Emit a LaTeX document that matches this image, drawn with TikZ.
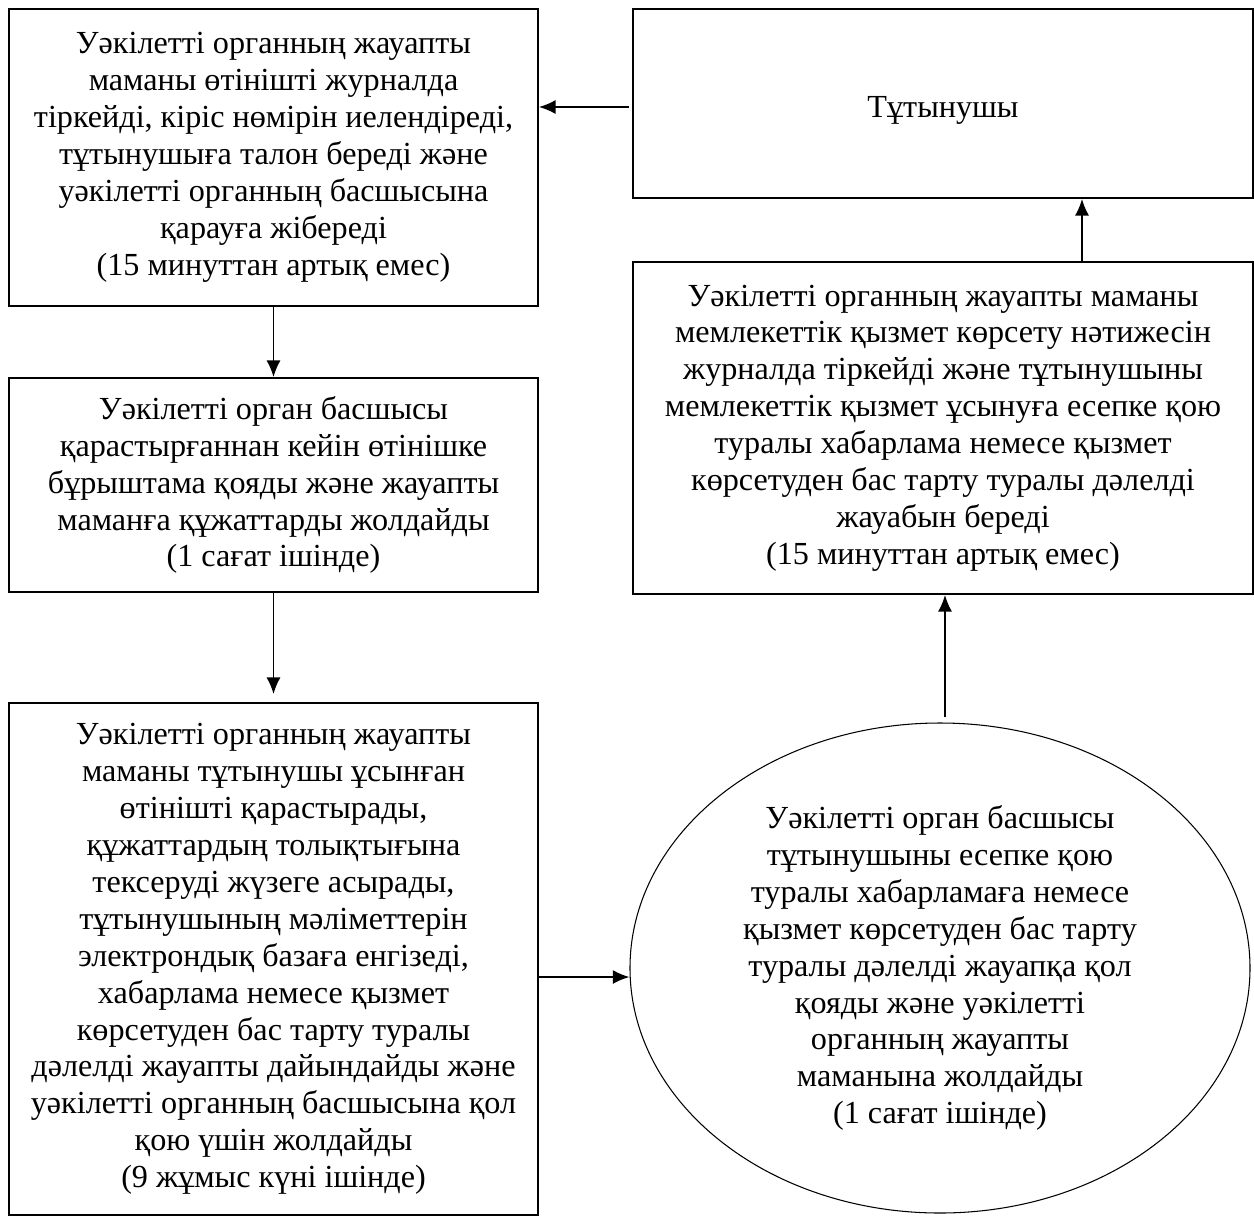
\documentclass[tikz,border=0pt]{standalone}
\usepackage{fontspec}
\setmainfont{Liberation Serif}
\usepackage{tikz}
\usetikzlibrary{arrows,arrows.meta,shapes,positioning}

\begin{document}
\begin{tikzpicture}[box/.style={draw, line width=1pt, align=center, inner sep=0pt},
        oval/.style={draw, ellipse, line width=0.6pt, align=center, inner sep=0pt},
        link/.style={->, >={Latex[length=9.5pt,width=8pt]}, line width=1pt},
        every node/.style={font=\fontsize{18.3}{21}\selectfont}]
        \useasboundingbox (0,0) rectangle (25.08,-24.32);

        \node[box, minimum width=10.58cm, minimum height=5.94cm] (reg) at (5.47,-3.15) {Уәкілетті органның жауапты\\маманы өтінішті журналда\\тіркейді, кіріс нөмірін иелендіреді,\\тұтынушыға талон береді және\\уәкілетті органның басшысына\\қарауға жібереді\\(15 минуттан артық емес)};
        \node[box, minimum width=10.58cm, minimum height=4.28cm] (head) at (5.47,-9.70) {Уәкілетті орган басшысы\\қарастырғаннан кейін өтінішке\\бұрыштама қояды және жауапты\\маманға құжаттарды жолдайды\\(1 сағат ішінде)};
        \node[box, minimum width=10.58cm, minimum height=10.24cm] (check) at (5.47,-19.18) {Уәкілетті органның жауапты\\маманы тұтынушы ұсынған\\өтінішті қарастырады,\\құжаттардың толықтығына\\тексеруді жүзеге асырады,\\тұтынушының мәліметтерін\\электрондық базаға енгізеді,\\хабарлама немесе қызмет\\көрсетуден бас тарту туралы\\дәлелді жауапты дайындайды және\\уәкілетті органның басшысына қол\\қою үшін жолдайды\\(9 жұмыс күні ішінде)};

        \node[box, minimum width=12.40cm, minimum height=3.78cm] (user) at (18.86,-2.07) {\raisebox{-4pt}[\height][\depth]{Тұтынушы}};
        \node[box, minimum width=12.40cm, minimum height=6.64cm] (result) at (18.86,-8.56) {Уәкілетті органның жауапты маманы\\мемлекеттік қызмет көрсету нәтижесін\\журналда тіркейді және тұтынушыны\\мемлекеттік қызмет ұсынуға есепке қою\\туралы хабарлама немесе қызмет\\көрсетуден бас тарту туралы дәлелді\\жауабын береді\\(15 минуттан артық емес)};
        \node[oval, minimum width=12.40cm, minimum height=9.80cm] (sign) at (18.80,-19.36) {Уәкілетті орган басшысы\\тұтынушыны есепке қою\\туралы хабарламаға немесе\\қызмет көрсетуден бас тарту\\туралы дәлелді жауапқа қол\\қояды және уәкілетті\\органның жауапты\\маманына жолдайды\\(1 сағат ішінде)};

        \coordinate (c1) at ([yshift=-0.36cm]check.east);
        \coordinate (c2) at ([xshift=0.1cm, yshift=0.1cm]sign.north);
        \coordinate (c3) at ([yshift=-0.07cm]user.west);

        \draw[link, shorten <=2pt] (c3) -- (c3 -| reg.east);
        \draw[link] (reg.south) -- (head.north);
        \draw[link, shorten >=0.16cm] (head.south) -- (check.north);
        \draw[link] (c1) -- (c1 -| sign.west);
        \draw[link] (c2) -- (c2 |- result.south);
        \draw[link] ([xshift=2.78cm]result.north) -- ([xshift=2.78cm]user.south);

    \end{tikzpicture}
\end{document}
